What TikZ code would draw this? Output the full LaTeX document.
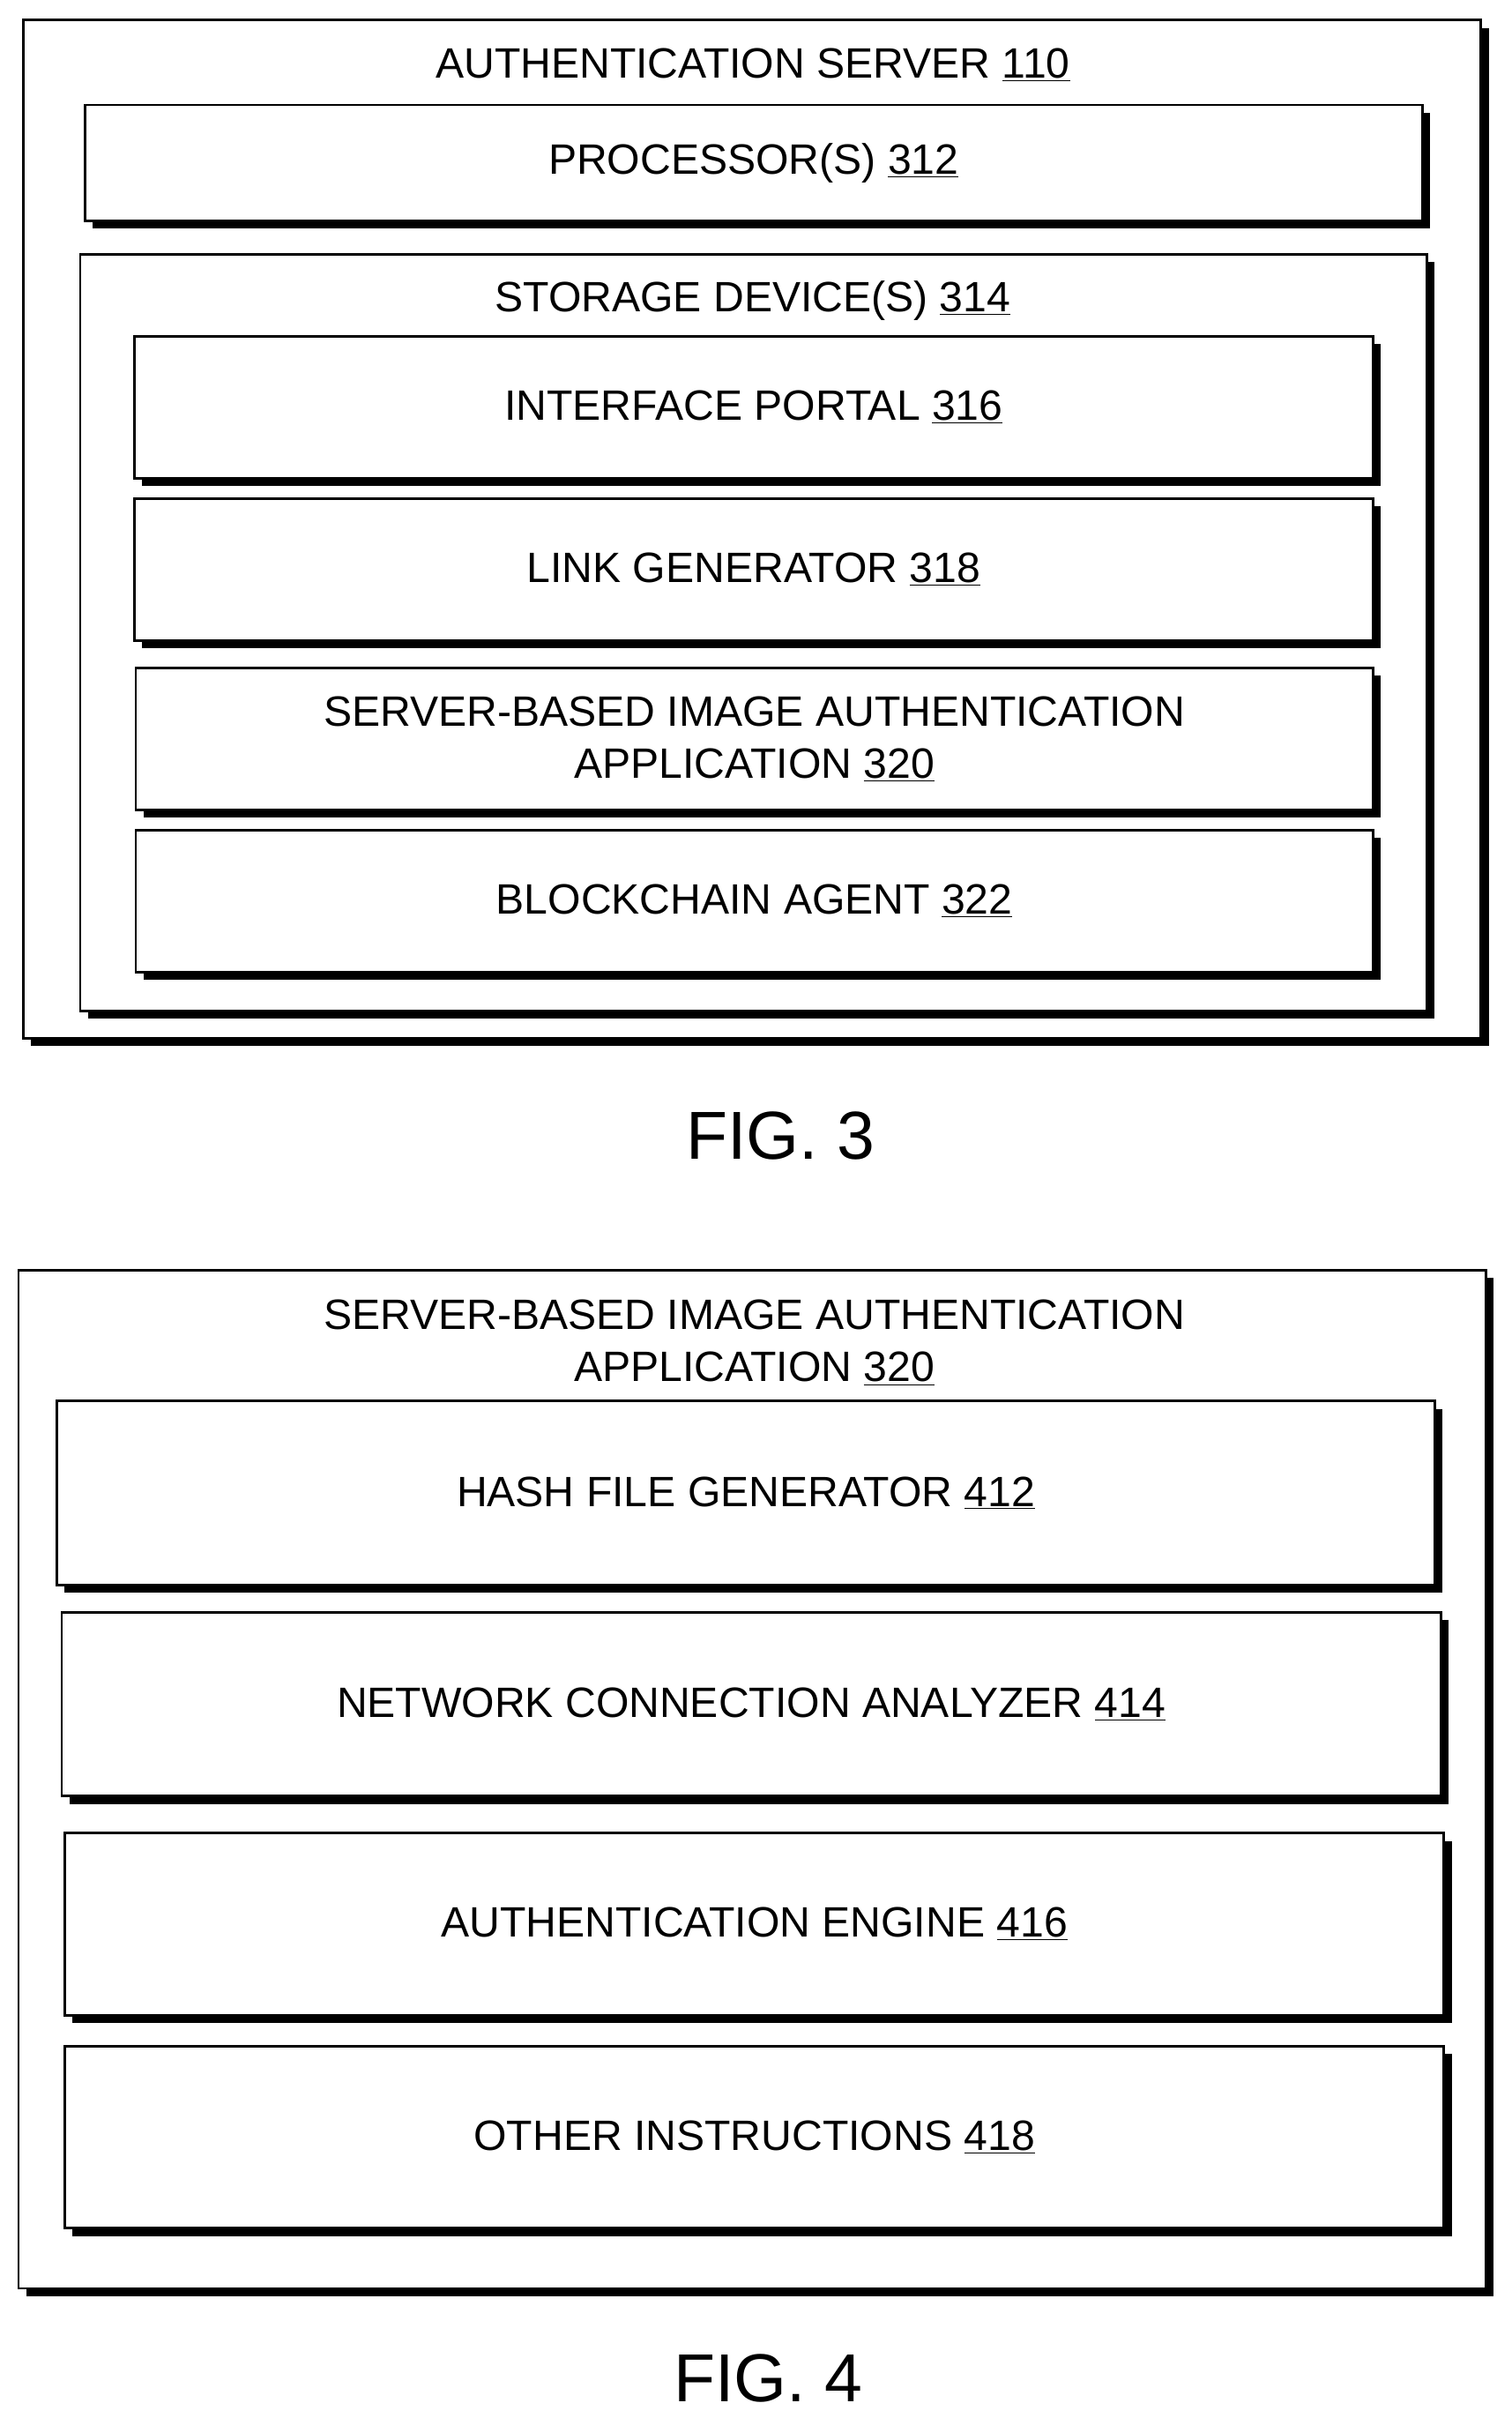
\documentclass[tikz,border=0pt]{standalone}
\usepackage{fontspec}
\setmainfont{Liberation Sans}
\usetikzlibrary{shadows}
\begin{document}
\begin{tikzpicture}[x=1pt,y=-1pt,
  bx/.style={draw,line width=1.6pt,fill=white,
    drop shadow={shadow xshift=5pt,shadow yshift=-5pt,fill=black,opacity=1}},
  lbl/.style={font=\fontsize{27.5}{34}\selectfont,align=center},
  fig/.style={font=\fontsize{44}{50}\selectfont}]
\useasboundingbox (0,0) rectangle (980,1567);
\newcommand{\bx}[6]{\node[bx,minimum width=#4-#2,minimum height=#5-#3,inner sep=0pt] (#1) at ({(#2+#4)/2},{(#3+#5)/2}) {};\node[lbl] at (#1.center) {#6};}
% FIG 3
\node[bx,minimum width=945,minimum height=660] (srv) at (487.5,343) {};
\node[lbl] (srvt) at (488,42) {AUTHENTICATION SERVER \underline{110}};
\bx{proc}{55}{68}{922}{143}{PROCESSOR(S) \underline{312}}
\node[bx,minimum width=873,minimum height=490] (stor) at (488.5,410) {};
\node[lbl] (stort) at (488,195) {STORAGE DEVICE(S) \underline{314}};
\bx{ip}{87}{218}{890}{310}{INTERFACE PORTAL \underline{316}}
\bx{lg}{87}{323}{890}{415}{LINK GENERATOR \underline{318}}
\bx{sb}{88}{433}{890}{525}{SERVER-BASED IMAGE AUTHENTICATION\\APPLICATION \underline{320}}
\bx{bc}{88}{538}{890}{630}{BLOCKCHAIN AGENT \underline{322}}
\node[fig] (f3) at (506,736) {FIG. 3};
% FIG 4
\node[bx,minimum width=951,minimum height=660] (app) at (487.5,1153) {};
\node[lbl] (appt) at (489,870) {SERVER-BASED IMAGE AUTHENTICATION\\APPLICATION \underline{320}};
\bx{hf}{37}{908}{930}{1027}{HASH FILE GENERATOR \underline{412}}
\bx{nc}{40}{1045}{934}{1164}{NETWORK CONNECTION ANALYZER \underline{414}}
\bx{ae}{42}{1188}{936}{1306}{AUTHENTICATION ENGINE \underline{416}}
\bx{oi}{42}{1326}{936}{1444}{OTHER INSTRUCTIONS \underline{418}}
\node[fig] (f4) at (498,1541) {FIG. 4};
\end{tikzpicture}
\end{document}
